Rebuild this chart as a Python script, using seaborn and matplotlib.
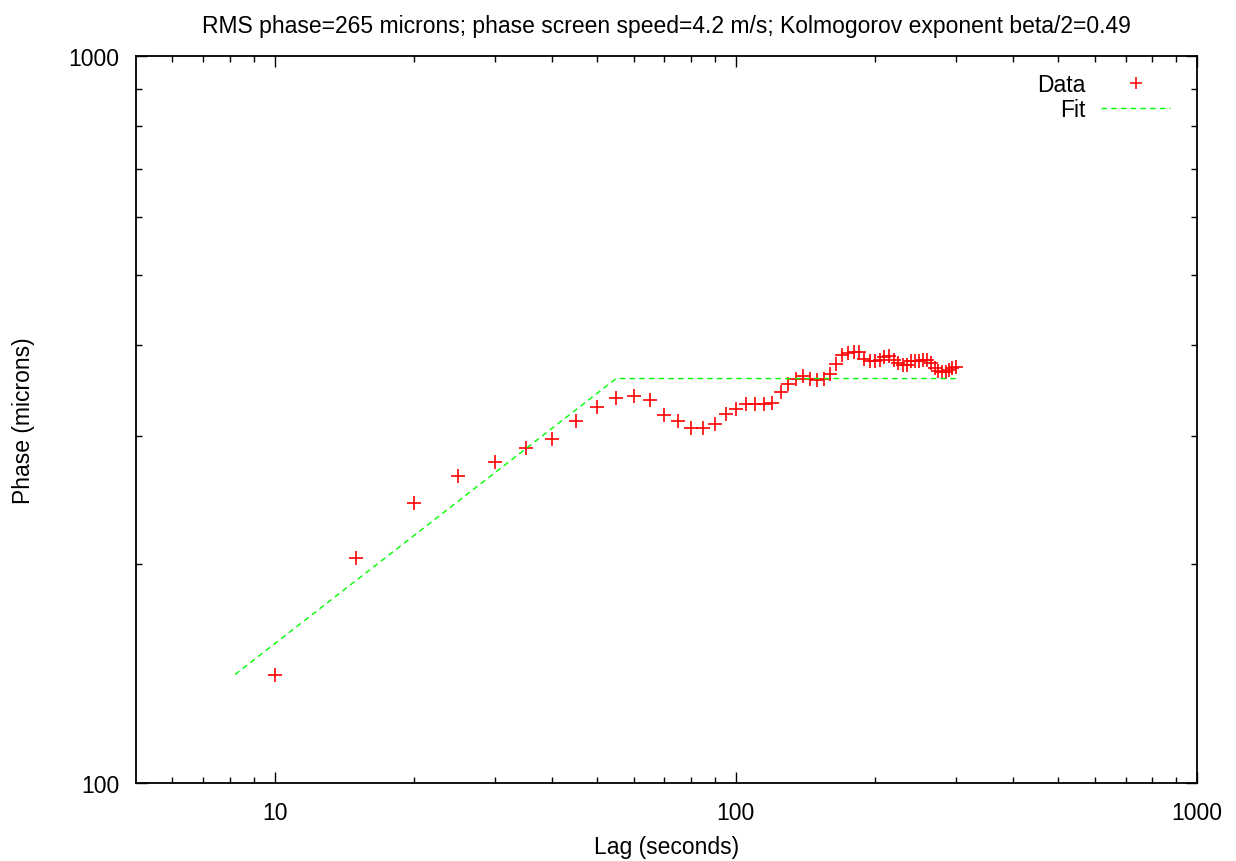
import numpy as np
import pandas as pd
import seaborn as sns
import matplotlib
matplotlib.use("Agg")
import matplotlib.pyplot as plt
from matplotlib.lines import Line2D
from matplotlib.ticker import FixedLocator, NullFormatter, FuncFormatter

# --- datos ---
LAG = [10, 15, 20, 25, 30, 35, 40, 45, 50, 55, 60, 65, 70, 75, 80, 85, 90, 95,
       100, 105, 110, 115, 120, 125, 130, 135, 140, 145, 150, 155, 160, 165,
       170, 175, 180, 185, 190, 195, 200, 205, 210, 215, 220, 225, 230, 235,
       240, 245, 250, 255, 260, 265, 270, 275, 280, 285, 290, 295, 300]
PHASE = [141, 204, 243, 264, 276, 289, 297, 315, 329, 339, 341, 336, 321, 315,
         308, 308, 312, 322, 327, 332, 332, 332, 333, 345, 354, 359, 363, 360,
         358, 360, 365, 377, 388, 390, 392, 391, 383, 380, 380, 382, 386, 387,
         382, 378, 376, 376, 380, 380, 381, 382, 382, 378, 372, 369, 367, 368,
         370, 372, 374]

FIT_LAG = [8.2, 55, 300]
FIT_PHASE = [141, 360, 360]

TITLE = "RMS phase=265 microns; phase screen speed=4.2 m/s; Kolmogorov exponent beta/2=0.49"

sns.set_theme(style="ticks")
plt.rcParams["font.family"] = ["Liberation Sans", "DejaVu Sans"]
plt.rcParams["text.color"] = "black"
plt.rcParams["axes.labelcolor"] = "black"
FS = 16.5

df = pd.DataFrame({"lag": LAG, "phase": PHASE})
fit = pd.DataFrame({"lag": FIT_LAG, "phase": FIT_PHASE})

fig = plt.figure(figsize=(12.36, 8.62), dpi=100)
ax = fig.add_axes([0.110, 0.0905, 0.8584, 0.8434])

sns.lineplot(data=fit, x="lag", y="phase", ax=ax, color="#00ff00", linewidth=1.0,
             dashes=False, sort=False, estimator=None)
ax.lines[-1].set_dashes((4, 3))
sns.scatterplot(data=df, x="lag", y="phase", ax=ax, marker="+", color="red",
                s=90, linewidth=1.2)

ax.set_xscale("log")
ax.set_yscale("log")
ax.set_xlim(5, 1000)
ax.set_ylim(100, 1000)

ax.xaxis.set_major_locator(FixedLocator([10, 100, 1000]))
ax.yaxis.set_major_locator(FixedLocator([100, 1000]))
ax.xaxis.set_minor_locator(FixedLocator([6, 7, 8, 9] + [k * 10 for k in range(2, 10)] + [k * 100 for k in range(2, 10)]))
ax.yaxis.set_minor_locator(FixedLocator([k * 100 for k in range(2, 10)]))
fmt = FuncFormatter(lambda v, p: f"{v:g}")
ax.xaxis.set_major_formatter(fmt)
ax.yaxis.set_major_formatter(fmt)
ax.xaxis.set_minor_formatter(NullFormatter())
ax.yaxis.set_minor_formatter(NullFormatter())

ax.tick_params(which="both", direction="in", top=True, right=True, colors="black",
               labelsize=FS, width=1.0)
ax.tick_params(which="major", length=8)
ax.tick_params(which="minor", length=4)
ax.tick_params(axis="x", which="major", pad=13)
ax.tick_params(axis="y", which="major", pad=12)
for s in ax.spines.values():
    s.set_linewidth(1.3)
    s.set_color("black")

ax.set_xlabel("Lag (seconds)", fontsize=FS, labelpad=8)
ax.set_ylabel("Phase (microns)", fontsize=FS, labelpad=24)
ax.set_title(TITLE, fontsize=FS, pad=17)

handles = [
    Line2D([], [], linestyle="none", marker="+", color="red", markersize=9, markeredgewidth=1.1),
    Line2D([], [], color="#00ff00", linewidth=1.0, dashes=(4, 3)),
]
ax.legend(handles, ["Data", "Fit"], loc="upper right", bbox_to_anchor=(0.9466, 0.914),
          bbox_transform=fig.transFigure, frameon=False, markerfirst=False,
          fontsize=FS, handlelength=3.0, labelspacing=0.07, borderpad=0,
          borderaxespad=0, handletextpad=0.7)

fig.savefig("out.png", dpi=100)
